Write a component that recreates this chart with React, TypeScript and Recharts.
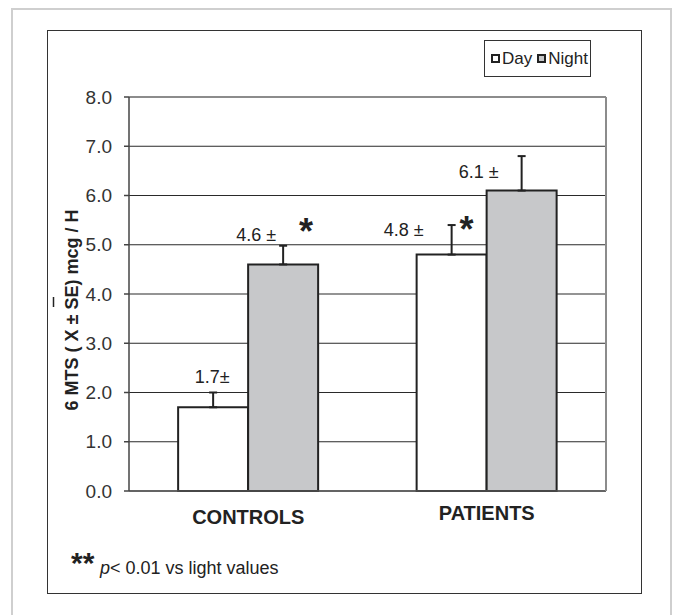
import { BarChart, Bar, XAxis, YAxis, CartesianGrid, ErrorBar, LabelList, Legend, ReferenceLine } from 'recharts'

const FONT = '"Liberation Sans", Arial, sans-serif'

const categories = ['CONTROLS', 'PATIENTS']
const dayValues = [1.7, 4.8]
const nightValues = [4.6, 6.1]
const daySE = [0.3, 0.6]
const nightSE = [0.38, 0.7]
const dayLabels = ['1.7±', '4.8 ±']
const nightLabels = ['4.6 ±', '6.1 ±']
const dayStars = ['', '*']
const nightStars = ['*', '']
const yTicks = [0, 1, 2, 3, 4, 5, 6, 7, 8]

const data = categories.map((name, i) => ({
    name,
    day: dayValues[i],
    night: nightValues[i],
    // only the upper half of the error bar is drawn
    dayErr: [0, daySE[i]],
    nightErr: [0, nightSE[i]],
}))

// label placement, relative to bar centre / top of the error bar
const DAY_LABEL_POS = [{ dx: -1, dy: -16 }, { dx: -48, dy: 5 }]
const NIGHT_LABEL_POS = [{ dx: -27, dy: -11 }, { dx: -43, dy: 16 }]
const DAY_STAR_POS = [null, { dx: 15, dy: -3 }]
const NIGHT_STAR_POS = [{ dx: 23, dy: -22 }, null]

const makeBarLabel = (values: number[], se: number[], labels: string[], stars: string[], pos: any[], starPos: any[]) =>
    (props: any) => {
        const vb = props.viewBox || props
        const x = Number(vb.x)
        const y = Number(vb.y)
        const width = Number(vb.width)
        const height = Number(vb.height)
        const i = props.index
        const pxPerUnit = height / values[i]
        const cx = x + width / 2
        const capY = y - se[i] * pxPerUnit
        const p = pos[i]
        const sp = starPos[i]
        return (
            <g>
                <text
                    x={cx + p.dx}
                    y={capY + p.dy}
                    textAnchor="middle"
                    dominantBaseline="central"
                    fontSize={18}
                    fontFamily={FONT}
                    fill="#222"
                >
                    {labels[i]}
                </text>
                {stars[i] && sp && (
                    <text
                        x={cx + sp.dx}
                        y={capY + sp.dy + 20}
                        textAnchor="middle"
                        fontSize={36}
                        fontWeight="bold"
                        fontFamily={FONT}
                        fill="#222"
                    >
                        {stars[i]}
                    </text>
                )}
            </g>
        )
    }

const renderAxisTitle = (props: any) => {
    const vb = props.viewBox || {}
    const cx = (vb.x || 0) + 71.5
    const cy = vb.y + vb.height / 2 + 16
    return (
        <g>
            <text
                x={cx}
                y={cy}
                transform={`rotate(-90 ${cx} ${cy})`}
                textAnchor="middle"
                dominantBaseline="central"
                fontSize={18}
                fontWeight="bold"
                fontFamily={FONT}
                fill="#222"
            >
                6 MTS ( X ± SE) mcg / H
            </text>
            {/* overline of the mean sign */}
            <line x1={cx - 18} x2={cx - 18} y1={cy - 13} y2={cy - 3} stroke="#222" strokeWidth={1.5} />
        </g>
    )
}

const CategoryTick = ({ x, y, payload, index }: any) => (
    <text
        x={x}
        y={y + 22 + (index === 0 ? 4 : 0)}
        textAnchor="middle"
        dominantBaseline="central"
        fontSize={20}
        fontWeight="bold"
        fontFamily={FONT}
        fill="#222"
    >
        {payload.value}
    </text>
)

const renderLegend = ({ payload }: any) => (
    <div
        style={{
            boxSizing: 'border-box',
            width: 107,
            height: 37,
            border: '1px solid #333',
            display: 'flex',
            alignItems: 'center',
            paddingLeft: 6,
            fontFamily: FONT,
            fontSize: 17,
            color: '#222',
            background: '#fff',
            whiteSpace: 'nowrap',
        }}
    >
        {(payload || []).map((entry: any) => (
            <span key={entry.value} style={{ display: 'inline-flex', alignItems: 'center', marginRight: 5 }}>
                <span
                    style={{
                        display: 'inline-block',
                        boxSizing: 'border-box',
                        width: 9,
                        height: 9,
                        border: '2px solid #222',
                        background: entry.color,
                        marginRight: 2,
                    }}
                />
                {entry.value}
            </span>
        ))}
    </div>
)

export default function App() {
    return (
        <div style={{ position: 'absolute', left: 0, top: 0, width: 677, height: 615, overflow: 'hidden', background: '#fff' }}>
            {/* outer frame */}
            <div style={{ position: 'absolute', left: 11, top: 8, width: 661, height: 640, boxSizing: 'border-box', border: '2px solid #cfcfcf' }} />
            {/* inner frame */}
            <div style={{ position: 'absolute', left: 47, top: 30, width: 595, height: 564, boxSizing: 'border-box', border: '1.5px solid #333' }} />

            <div style={{ position: 'absolute', left: 0, top: 0 }}>
                <BarChart
                    width={677}
                    height={615}
                    data={data}
                    margin={{ top: 97, right: 70, bottom: 84, left: 0 }}
                    barCategoryGap="20.6%"
                    barGap={0}
                >
                    <CartesianGrid vertical={false} stroke="#2a2a2a" strokeWidth={1.2} />
                    <XAxis
                        dataKey="name"
                        height={40}
                        tickLine={false}
                        tickSize={0}
                        tickMargin={0}
                        axisLine={{ stroke: '#555', strokeWidth: 1.5 }}
                        tick={<CategoryTick />}
                    />
                    <YAxis
                        domain={[0, 8]}
                        ticks={yTicks}
                        interval={0}
                        width={129}
                        tickSize={5}
                        tickMargin={12}
                        tickFormatter={(v: number) => v.toFixed(1)}
                        tick={{ fontSize: 19, fill: '#333', fontFamily: FONT }}
                        axisLine={{ stroke: '#444', strokeWidth: 1.5 }}
                        tickLine={{ stroke: '#444', strokeWidth: 1.5 }}
                        label={renderAxisTitle}
                    />
                    {/* right side of the plot frame */}
                    <YAxis
                        yAxisId="frame"
                        orientation="right"
                        domain={[0, 8]}
                        width={1}
                        tick={false}
                        tickLine={false}
                        axisLine={{ stroke: '#8c8c8c', strokeWidth: 2 }}
                    />
                    <ReferenceLine y={8} stroke="#8c8c8c" strokeWidth={2} />
                    <Legend
                        layout="vertical"
                        align="center"
                        verticalAlign="middle"
                        wrapperStyle={{ top: 40, left: 484, width: 107, height: 37 }}
                        content={renderLegend}
                    />
                    <Bar dataKey="day" name="Day" fill="#ffffff" stroke="#222" strokeWidth={2} isAnimationActive={false}>
                        <ErrorBar dataKey="dayErr" direction="y" width={4} stroke="#222" strokeWidth={2} isAnimationActive={false} />
                        <LabelList dataKey="day" content={makeBarLabel(dayValues, daySE, dayLabels, dayStars, DAY_LABEL_POS, DAY_STAR_POS)} />
                    </Bar>
                    <Bar dataKey="night" name="Night" fill="#c7c8ca" stroke="#222" strokeWidth={2} isAnimationActive={false}>
                        <ErrorBar dataKey="nightErr" direction="y" width={4} stroke="#222" strokeWidth={2} isAnimationActive={false} />
                        <LabelList dataKey="night" content={makeBarLabel(nightValues, nightSE, nightLabels, nightStars, NIGHT_LABEL_POS, NIGHT_STAR_POS)} />
                    </Bar>
                </BarChart>
            </div>

            {/* footnote */}
            <svg width={677} height={615} style={{ position: 'absolute', left: 0, top: 0, pointerEvents: 'none' }}>
                <text x={71} y={573} fontSize={30} fontWeight="bold" fontFamily={FONT} fill="#222">**</text>
                <text x={100} y={574} fontSize={18} fontFamily={FONT} fill="#222">
                    <tspan fontStyle="italic">p</tspan>{'< 0.01 vs light values'}
                </text>
            </svg>
        </div>
    )
}
